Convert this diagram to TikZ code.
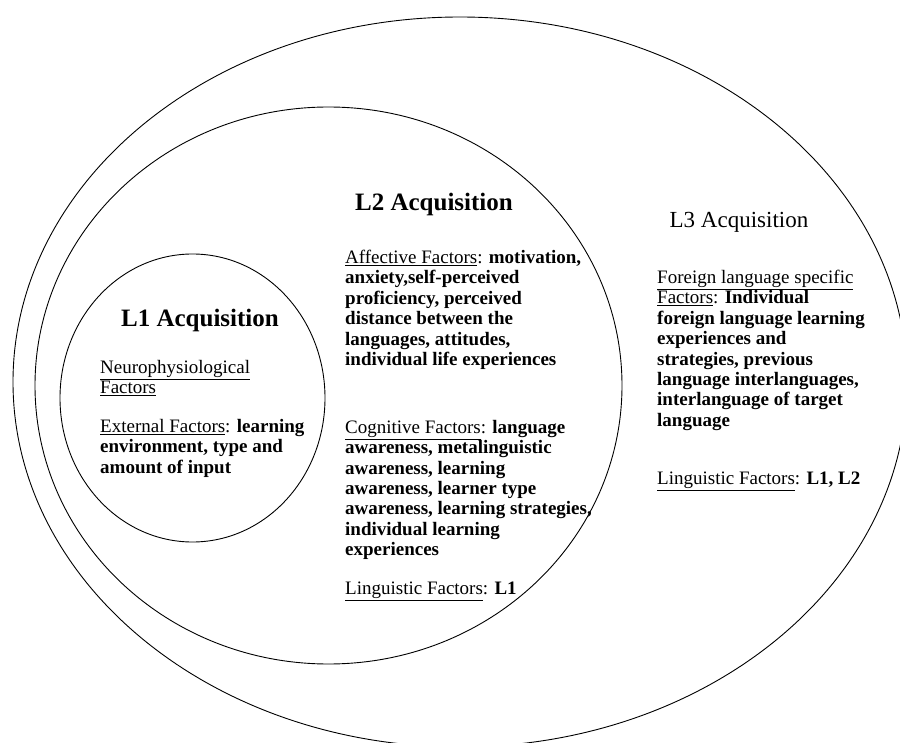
\documentclass[tikz,border=0pt]{standalone}
\usepackage{fontspec}
\setmainfont{Liberation Serif}
\usepackage{tikz}
\usetikzlibrary{shapes.geometric}
\tikzset{ring/.style={ellipse,draw,line width=0.9pt,inner sep=0pt}}
\tikzset{head/.style={inner sep=0pt,anchor=base,font=\fontsize{25}{28}\selectfont\bfseries}}
\tikzset{body/.style={inner sep=0pt,anchor=north west,align=left,font=\fontsize{19}{20.4}\selectfont\bfseries}}
\newcommand{\factor}[1]{\underline{\mdseries #1}}
\newcommand{\fcolon}{{\mdseries:}}

\begin{document}
\begin{tikzpicture}[x=1pt,y=-1pt]
        \useasboundingbox (0,0) rectangle (900,743);
        \clip (0,0) rectangle (900,743);

        \node[ring,minimum width=894pt,minimum height=730pt] (l3) at (460,382) {};
        \node[ring,minimum width=587pt,minimum height=557pt] (l2) at (328.5,385.5) {};
        \node[ring,minimum width=265pt,minimum height=288pt] (l1) at (192.5,398) {};

        % L1
        \node[head] (l1head) at (200,327) {L1 Acquisition};
        \node[body] (neuro) at (100,360) {\factor{Neurophysiological}\\ \factor{Factors}};
        \node[body] (extern) at (100,419) {\factor{External Factors}\fcolon{} learning\\ environment, type and\\ amount of input};

        % L2
        \node[head] (l2head) at (434,211) {L2 Acquisition};
        \node[body] (affect) at (345,250) {\factor{Affective Factors}\fcolon{} motivation,\\ anxiety,self-perceived\\ proficiency, perceived\\ distance between the\\ languages, attitudes,\\ individual life experiences};
        \node[body] (cognit) at (345,420) {\factor{Cognitive Factors}\fcolon{} language\\ awareness, metalinguistic\\ awareness, learning\\ awareness, learner type\\ awareness, learning strategies,\\ individual learning\\ experiences};
        \node[body] (lingtwo) at (345,582) {\factor{Linguistic Factors}\fcolon{} L1};

        % L3
        \node[head,font=\fontsize{23}{26}\selectfont] (l3head) at (739,228) {L3 Acquisition};
        \node[body] (foreign) at (657,270) {\factor{Foreign language specific}\\ \factor{Factors}\fcolon{} Individual\\ foreign language learning\\ experiences and\\ strategies, previous\\ language interlanguages,\\ interlanguage of target\\ language};
        \node[body] (lingthree) at (657,472) {\factor{Linguistic Factors}\fcolon{} L1, L2};
\end{tikzpicture}
\end{document}
